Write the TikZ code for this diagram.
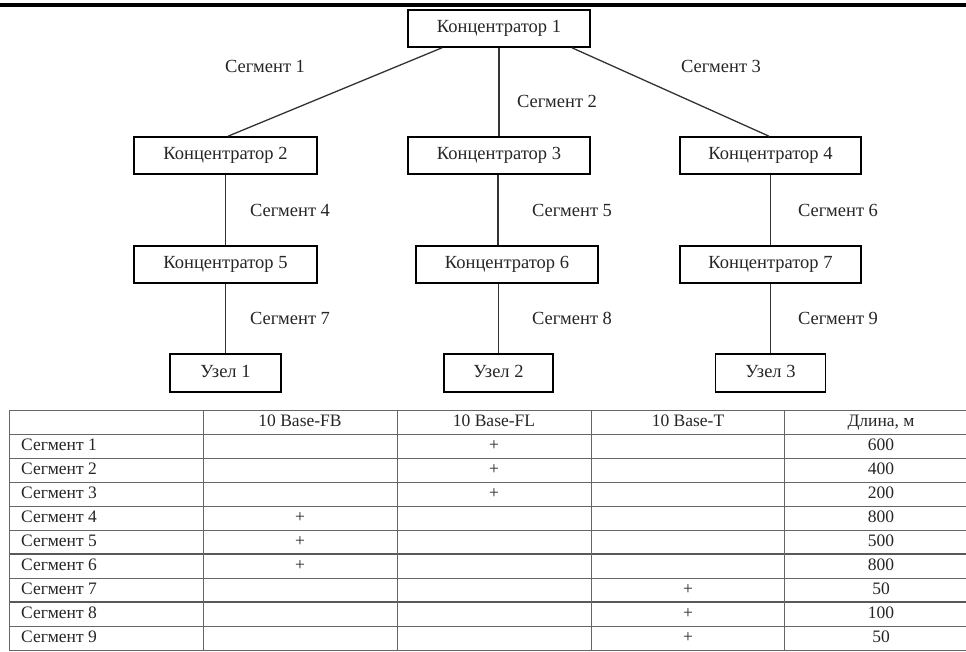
\documentclass[tikz,border=0pt]{standalone}
\usepackage{fontspec}
\setmainfont{Liberation Serif}
\begin{document}
\begin{tikzpicture}[x=1pt,y=-1pt,
  hub/.style={draw=black,line width=1.6pt,fill=white,inner sep=0pt,minimum height=37pt,
    font=\fontsize{18.5}{21}\selectfont,text=black!85,text height=12.5pt,text depth=4pt},
  seg/.style={inner sep=0pt,font=\fontsize{18.5}{21}\selectfont,text=black!85,text height=12.5pt,text depth=4pt},
  link/.style={draw=black!80,line width=1.3pt},
  grid/.style={draw=black!60,line width=1pt},
  gridthick/.style={draw=black!65,line width=2pt},
  cell/.style={inner sep=0pt,font=\fontsize{17.5}{20}\selectfont,text=black!85,text height=12pt,text depth=3.5pt}]
\useasboundingbox[fill=white] (0,0) rectangle (966,651);
\draw[line width=3.5pt] (0,5) -- (966,5);

% hubs
\node[hub,minimum width=182pt] (k1) at (499,28.5) {Концентратор 1};
\node[hub,minimum width=183pt] (k2) at (225.5,155.5) {Концентратор 2};
\node[hub,minimum width=182pt] (k3) at (499,155.5) {Концентратор 3};
\node[hub,minimum width=181pt] (k4) at (770.5,155.5) {Концентратор 4};
\node[hub,minimum width=183pt] (k5) at (225.5,264.5) {Концентратор 5};
\node[hub,minimum width=182pt] (k6) at (507,264.5) {Концентратор 6};
\node[hub,minimum width=181pt] (k7) at (770.5,264.5) {Концентратор 7};
\node[hub,minimum width=111pt,minimum height=38pt] (u1) at (225.5,373) {Узел 1};
\node[hub,minimum width=109pt,minimum height=38pt] (u2) at (498.5,373) {Узел 2};
\node[hub,minimum width=110pt,minimum height=38pt] (u3) at (770.5,373) {Узел 3};

% connectors
\draw[link] ([xshift=-57pt]k1.south) -- ([xshift=2.5pt]k2.north);
\draw[link] (k1.south) -- (k3.north);
\draw[link] ([xshift=73pt]k1.south) -- ([xshift=-1.5pt]k4.north);
\draw[link] (k2.south) -- (k5.north);
\draw[link] (k5.south) -- (u1.north);
\draw[link] ([xshift=-1pt]k3.south) -- ([xshift=-1pt]k3.south |- k6.north);
\draw[link] (u2.north |- k6.south) -- (u2.north);
\draw[link] (k4.south) -- (k7.north);
\draw[link] (k7.south) -- (u3.north);

% segment labels
\node[seg] (s1) at (265,68) {Сегмент 1};
\node[seg] (s2) at (557,103) {Сегмент 2};
\node[seg] (s3) at (721,68) {Сегмент 3};
\node[seg] (s4) at (290,212) {Сегмент 4};
\node[seg] (s5) at (572,212) {Сегмент 5};
\node[seg] (s6) at (838,212) {Сегмент 6};
\node[seg] (s7) at (290,320) {Сегмент 7};
\node[seg] (s8) at (572,320) {Сегмент 8};
\node[seg] (s9) at (838,320) {Сегмент 9};

% table grid
\foreach \i in {0,...,10} {
  \pgfmathsetmacro{\yy}{410+24*\i}
  \draw[grid] (9,\yy) -- (966,\yy);
}
\draw[gridthick] (9,554) -- (966,554);
\draw[gridthick] (9,602) -- (966,602);
\foreach \x in {9,203,397,591,784} {
  \draw[grid] (\x,410) -- (\x,650);
}

% header
\node[cell] (h1) at (300,422) {10 Base-FB};
\node[cell] (h2) at (494,422) {10 Base-FL};
\node[cell] (h3) at (688,422) {10 Base-T};
\node[cell] (h4) at (881,422) {Длина, м};

% rows
\foreach \i/\c/\len in {1/494/600,2/494/400,3/494/200,4/300/800,5/300/500,6/300/800,7/688/50,8/688/100,9/688/50} {
  \pgfmathsetmacro{\yy}{422+24*\i}
  \node[cell,anchor=west] (r\i) at (21,\yy) {Сегмент \i};
  \node[cell] (p\i) at (\c,\yy) {+};
  \node[cell] (l\i) at (881,\yy) {\len};
}
\end{tikzpicture}
\end{document}
